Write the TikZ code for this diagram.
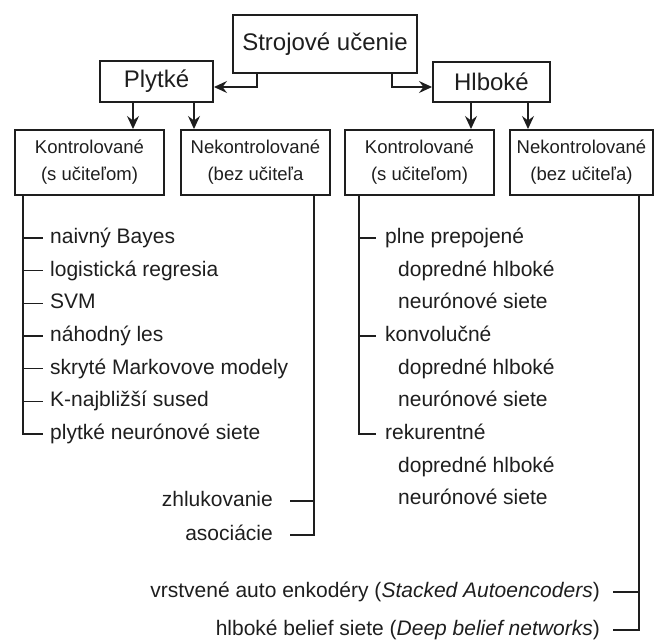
\documentclass[tikz,border=0pt]{standalone}
\usepackage{fontspec}
\setmainfont{Liberation Sans}
\usetikzlibrary{arrows.meta}
\definecolor{ink}{HTML}{1E1E1E}
\begin{document}
\begin{tikzpicture}[x=1pt,y=-1pt,
  box/.style={draw=ink, line width=2pt, rectangle, inner sep=0pt, text=ink},
  topbox/.style={box, font=\fontsize{24}{28}\selectfont},
  subbox/.style={box, font=\fontsize{18.5}{27}\selectfont, align=center, minimum height=65pt},
  conn/.style={draw=ink, line width=1.1pt},
  arr/.style={conn, -{Stealth[length=13pt,width=12pt,inset=4.5pt]}},
  item/.style={text=ink, font=\fontsize{21}{27}\selectfont, inner ysep=0pt, text height=15pt, text depth=4pt},
]
\useasboundingbox (0,0) rectangle (655,640);

% top level
\node[topbox, minimum width=184pt, minimum height=58pt] (root) at (325,44) {Strojové učenie};
\node[topbox, minimum width=113pt, minimum height=41pt] (ply) at (156.5,81.5) {Plytké};
\node[topbox, minimum width=117pt, minimum height=40pt] (hlb) at (491.5,82) {Hlboké};

% second level
\node[subbox, minimum width=149pt] (k1) at (89.5,162.5) {Kontrolované\\(s učiteľom)};
\node[subbox, minimum width=149pt] (n1) at (255.5,162.5) {Nekontrolované\\(bez učiteľa};
\node[subbox, minimum width=149pt] (k2) at (419.5,162.5) {Kontrolované\\(s učiteľom)};
\node[subbox, minimum width=143pt] (n2) at (581.5,162.5) {Nekontrolované\\(bez učiteľa)};

% arrows
\draw[arr] ([xshift=25pt]root.south west) |- ([yshift=-5.5pt]ply.east);
\draw[arr] ([xshift=-26pt]root.south east) |- ([yshift=-5pt]hlb.west);
\draw[arr] ([xshift=-23.5pt]ply.south) -- ([xshift=43.5pt]k1.north);
\draw[arr] ([xshift=37.5pt]ply.south) -- ([xshift=-61.5pt]n1.north);
\draw[arr] ([xshift=-20.5pt]hlb.south) -- ([xshift=51.5pt]k2.north);
\draw[arr] ([xshift=36.5pt]hlb.south) -- ([xshift=-53.5pt]n2.north);

% shallow supervised list
\node[item, anchor=west, inner xsep=7pt] (a1) at (43,238) {naivný Bayes};
\node[item, anchor=west, inner xsep=7pt] (a2) at (43,270.7) {logistická regresia};
\node[item, anchor=west, inner xsep=7pt] (a3) at (43,303.3) {SVM};
\node[item, anchor=west, inner xsep=7pt] (a4) at (43,336) {náhodný les};
\node[item, anchor=west, inner xsep=7pt] (a5) at (43,368.7) {skryté Markovove modely};
\node[item, anchor=west, inner xsep=7pt] (a6) at (43,401.3) {K-najbližší sused};
\node[item, anchor=west, inner xsep=7pt] (a7) at (43,434) {plytké neurónové siete};
\coordinate (va) at ([xshift=9pt]k1.south west);
\draw[conn] (va) |- (a7.west);
\foreach \n in {1,...,6} \draw[conn] (va |- a\n.west) -- (a\n.west);

% deep supervised list
\node[item, anchor=west, inner xsep=9pt] (b1) at (376,238) {plne prepojené};
\node[item, anchor=west, inner xsep=0pt] (b1a) at (398,270.7) {dopredné hlboké};
\node[item, anchor=west, inner xsep=0pt] (b1b) at (398,303.3) {neurónové siete};
\node[item, anchor=west, inner xsep=9pt] (b2) at (376,336) {konvolučné};
\node[item, anchor=west, inner xsep=0pt] (b2a) at (398,368.7) {dopredné hlboké};
\node[item, anchor=west, inner xsep=0pt] (b2b) at (398,401.3) {neurónové siete};
\node[item, anchor=west, inner xsep=9pt] (b3) at (376,434) {rekurentné};
\node[item, anchor=west, inner xsep=0pt] (b3a) at (398,466.7) {dopredné hlboké};
\node[item, anchor=west, inner xsep=0pt] (b3b) at (398,499.3) {neurónové siete};
\coordinate (vb) at ([xshift=15pt]k2.south west);
\draw[conn] (vb) |- (b3.west);
\draw[conn] (vb |- b1.west) -- (b1.west);
\draw[conn] (vb |- b2.west) -- (b2.west);

% shallow unsupervised list
\node[item, anchor=east, inner xsep=17pt] (c1) at (290,501) {zhlukovanie};
\node[item, anchor=east, inner xsep=17pt] (c2) at (290,535) {asociácie};
\coordinate (vc) at ([xshift=-17pt]n1.south east);
\draw[conn] (vc) |- (c2.east);
\draw[conn] (vc |- c1.east) -- (c1.east);

% deep unsupervised list
\node[item, anchor=east, inner xsep=13pt] (d1) at (613,592) {vrstvené auto enkodéry (\textit{Stacked Autoencoders})};
\node[item, anchor=east, inner xsep=13pt] (d2) at (613,630) {hlboké belief siete (\textit{Deep belief networks})};
\coordinate (vd) at ([xshift=-15pt]n2.south east);
\draw[conn] (vd) |- (d2.east);
\draw[conn] (vd |- d1.east) -- (d1.east);
\end{tikzpicture}
\end{document}
